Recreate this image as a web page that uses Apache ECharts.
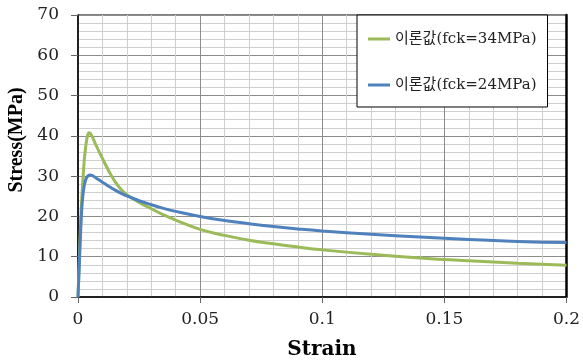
<!DOCTYPE html>
<html><head><meta charset="utf-8">
<script src="https://cdn.jsdelivr.net/npm/echarts@6/dist/echarts.min.js"></script>
<style>html,body{margin:0;padding:0;background:#fff}#c{width:583px;height:361px}</style>
</head><body><div id="c"></div>
<script>
var strain = [0, 0.0005, 0.001, 0.0015, 0.002, 0.0025, 0.003, 0.0035, 0.004, 0.0045, 0.005, 0.006, 0.007, 0.008, 0.01, 0.0125, 0.015, 0.0175, 0.02, 0.025, 0.03, 0.035, 0.04, 0.05, 0.06, 0.07, 0.08, 0.09, 0.1, 0.12, 0.14, 0.16, 0.18, 0.2];
var stress34 = [0, 8.5, 17, 24, 29, 33.5, 36.5, 38.8, 40.2, 40.8, 40.6, 39.6, 38.2, 36.9, 34.4, 31.4, 28.8, 26.8, 25.4, 23.5, 21.9, 20.4, 19.1, 16.8, 15.3, 14.1, 13.2, 12.4, 11.7, 10.6, 9.7, 9.0, 8.4, 7.9];
var stress24 = [0, 7.5, 15, 21.5, 25.2, 27.5, 28.8, 29.6, 30.0, 30.2, 30.3, 30.1, 29.7, 29.3, 28.5, 27.5, 26.6, 25.8, 25.1, 23.9, 22.9, 22.0, 21.25, 20.0, 19.0, 18.2, 17.5, 16.9, 16.4, 15.6, 14.9, 14.3, 13.8, 13.5];
var seriesNames = ['이론값(fck=34MPa)', '이론값(fck=24MPa)'];
var xTickLabels = {0: '0', 0.05: '0.05', 0.1: '0.1', 0.15: '0.15', 0.2: '0.2'};
var xTitle = 'Strain';
var yTitle = 'Stress(MPa)';

function pairs(xs, ys) { return xs.map(function (x, i) { return [x, ys[i]]; }); }
var serifFont = '"DejaVu Serif", "Noto Sans CJK KR", serif';
var chart = echarts.init(document.getElementById('c'));
chart.setOption({
  animation: false,
  grid: { left: 78, right: 16, top: 15, bottom: 64, show: true, borderColor: '#000', borderWidth: 1 },
  legend: {
    orient: 'vertical', left: 357, top: 15,
    padding: [12, 11, 10, 11], itemGap: 22,
    itemWidth: 22, itemHeight: 3, icon: 'rect',
    borderColor: '#000', borderWidth: 1, backgroundColor: '#fff',
    textStyle: { fontFamily: serifFont, fontSize: 15, color: '#222', lineHeight: 24 },
    data: seriesNames
  },
  xAxis: {
    type: 'value', min: 0, max: 0.2, interval: 0.05,
    axisLine: { lineStyle: { color: '#000', width: 1.5 } },
    axisTick: { show: true, length: 6, lineStyle: { color: '#666' } },
    axisLabel: { margin: 14, fontFamily: serifFont, fontSize: 17, color: '#222', formatter: function (v) { return xTickLabels[v] !== undefined ? xTickLabels[v] : String(v); } },
    splitLine: { show: true, lineStyle: { color: '#8c8c8c', width: 1 } },
    minorTick: { show: true, splitNumber: 5, length: 0, lineStyle: { color: 'rgba(0,0,0,0)' } },
    minorSplitLine: { show: true, lineStyle: { color: '#cfcfcf', width: 1 } }
  },
  yAxis: [{
    type: 'value', min: 0, max: 70, interval: 10,
    axisLine: { show: true, lineStyle: { color: '#000', width: 1.5 } },
    axisTick: { show: true, length: 7, lineStyle: { color: '#666' } },
    axisLabel: { margin: 19, fontFamily: serifFont, fontSize: 17, color: '#222' },
    splitLine: { show: true, lineStyle: { color: '#8c8c8c', width: 1 } },
    minorTick: { show: true, splitNumber: 5, length: 0, lineStyle: { color: 'rgba(0,0,0,0)' } },
    minorSplitLine: { show: true, lineStyle: { color: '#cfcfcf', width: 1 } }
  }, {
    type: 'value', min: 0, max: 70, interval: 10, position: 'right',
    axisLine: { show: true, lineStyle: { color: '#000', width: 2.5 } },
    axisTick: { show: false }, axisLabel: { show: false }, splitLine: { show: false }
  }],
  series: [{
    name: seriesNames[0], type: 'line', data: pairs(strain, stress34),
    smooth: 0.5, showSymbol: false, symbol: 'none',
    lineStyle: { color: '#9BBB59', width: 3 }, itemStyle: { color: '#9BBB59' }
  }, {
    name: seriesNames[1], type: 'line', data: pairs(strain, stress24),
    smooth: 0.5, showSymbol: false, symbol: 'none',
    lineStyle: { color: '#4F81BD', width: 3 }, itemStyle: { color: '#4F81BD' }
  }],
  graphic: [
    { type: 'text', x: 17, y: 140, rotation: Math.PI / 2,
      style: { text: yTitle, align: 'center', verticalAlign: 'middle', font: 'bold 20px "Liberation Serif", serif', fill: '#000' } },
    { type: 'text', x: 322, y: 350,
      style: { text: xTitle, align: 'center', verticalAlign: 'middle', font: 'bold 20px "DejaVu Serif", serif', fill: '#000' } }
  ]
});
</script></body></html>
